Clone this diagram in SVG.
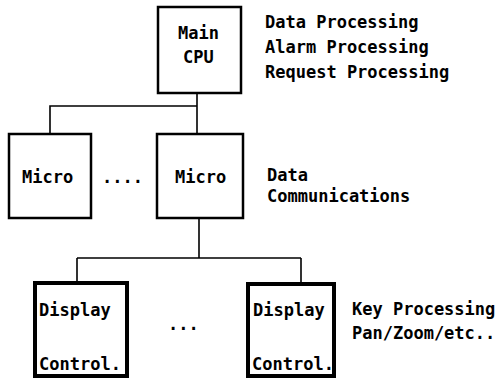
<svg xmlns="http://www.w3.org/2000/svg" width="500" height="380" viewBox="0 0 500 380">
<style>
text{font-family:"DejaVu Sans Mono","Liberation Mono",monospace;font-weight:bold;font-size:17px;fill:#000}
.box{fill:#fff;stroke:#000;stroke-width:2.5}
.thick{fill:#fff;stroke:#000;stroke-width:4}
.conn{fill:none;stroke:#000;stroke-width:1.6}
</style>
<rect width="500" height="380" fill="#fff"/>
<g id="connectors">
<path class="conn" d="M197 93 V106 H50 V134 M197 106 V134"/>
<path class="conn" d="M199 218 V258 M77 258 H301 M77 258 V283 M301 258 V284"/>
</g>
<g id="main-cpu">
<rect class="box" x="158" y="7" width="83" height="86"/>
<text x="178" y="39">Main</text>
<text x="183" y="63">CPU</text>
</g>
<g id="main-notes">
<text x="265" y="28">Data Processing</text>
<text x="265" y="53">Alarm Processing</text>
<text x="265" y="78">Request Processing</text>
</g>
<g id="micro1">
<rect class="box" x="9" y="134" width="82" height="84"/>
<text x="22" y="183">Micro</text>
</g>
<text x="102" y="183">....</text>
<g id="micro2">
<rect class="box" x="157" y="134" width="86" height="84"/>
<text x="175" y="183">Micro</text>
</g>
<g id="micro-notes">
<text x="267" y="181">Data</text>
<text x="267" y="202">Communications</text>
</g>
<g id="display1">
<rect class="thick" x="35" y="283" width="92" height="93"/>
<text x="39" y="316">Display</text>
<text x="39" y="370">Control.</text>
</g>
<text x="168" y="330">...</text>
<g id="display2">
<rect class="thick" x="248" y="284" width="86" height="92"/>
<text x="253" y="316">Display</text>
<text x="252" y="370">Control.</text>
</g>
<g id="display-notes">
<text x="352" y="315">Key Processing</text>
<text x="352" y="339">Pan/Zoom/etc..</text>
</g>
</svg>
